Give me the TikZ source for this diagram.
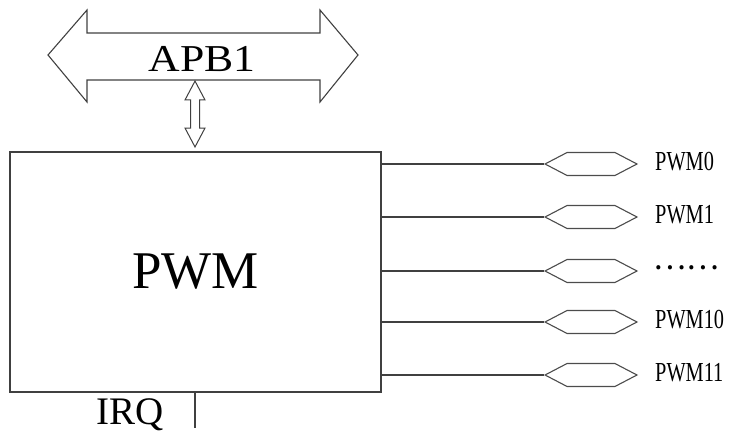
\documentclass[tikz,border=0pt]{standalone}
\usepackage{fontspec}
\usepackage{graphicx}
\setmainfont{Liberation Serif}
\newfontfamily\cjk{Noto Sans CJK SC}
\usetikzlibrary{shapes.symbols}
\newcommand{\pinlabel}[1]{\fontsize{27.5}{30}\selectfont\scalebox{0.74}[1]{#1}}
\begin{document}
\begin{tikzpicture}[x=1pt,y=-1pt,
  ln/.style={draw=black!75, line width=1.2pt},
  pin/.style={signal, signal to=west and east, signal pointer angle=55,
    draw=black!70, line width=1.1pt, minimum width=92pt, minimum height=23pt, inner sep=0pt},
  lab/.style={anchor=west, inner sep=0pt}]
\useasboundingbox (0,0) rectangle (729,436);
% bus arrow
\draw[ln, line width=1.1pt] (48,55) -- (87,10) -- (87,33) -- (320,33) -- (320,10) -- (358,55)
  -- (320,102) -- (320,80) -- (87,80) -- (87,102) -- cycle;
\node[inner sep=0pt] (apb) at (202,59.5) {\fontsize{38}{40}\selectfont\scalebox{1.15}[1]{APB1}};
% PWM box
\node[ln, minimum width=371pt, minimum height=240pt, inner sep=0pt] (pwm) at (195.5,272)
  {\fontsize{53}{56}\selectfont PWM};
% small double arrow between bus and box
\draw[ln, line width=1pt] (195,81) -- (205,100) -- (199.5,100) -- (199.5,128) -- (205,128)
  -- (195,147) -- (185,128) -- (190.5,128) -- (190.5,100) -- (185,100) -- cycle;
% outputs
\foreach \i/\yy/\t in {0/164/PWM0, 1/217/PWM1, 10/322/PWM10, 11/375/PWM11}{
  \coordinate (s\i) at (381,\yy);
  \node[pin] (p\i) at (591,\yy) {};
  \draw[ln] (s\i) -- (p\i.west);
  \node[lab] (l\i) at (655,\yy-2) {\pinlabel{\t}};
}
\coordinate (sd) at (381,271);
\node[pin] (pd) at (591,271) {};
\draw[ln] (sd) -- (pd.west);
\node[anchor=west, inner sep=0pt] (ld) at (653,268) {\cjk\fontsize{31}{33}\selectfont ……};
% IRQ
\coordinate (irqtop) at (195,392);
\coordinate (irqend) at (195,428);
\draw[ln] (irqtop) -- (irqend);
\node[inner sep=0pt] (irq) at (130,415) {\fontsize{39}{41}\selectfont IRQ};
\end{tikzpicture}
\end{document}
